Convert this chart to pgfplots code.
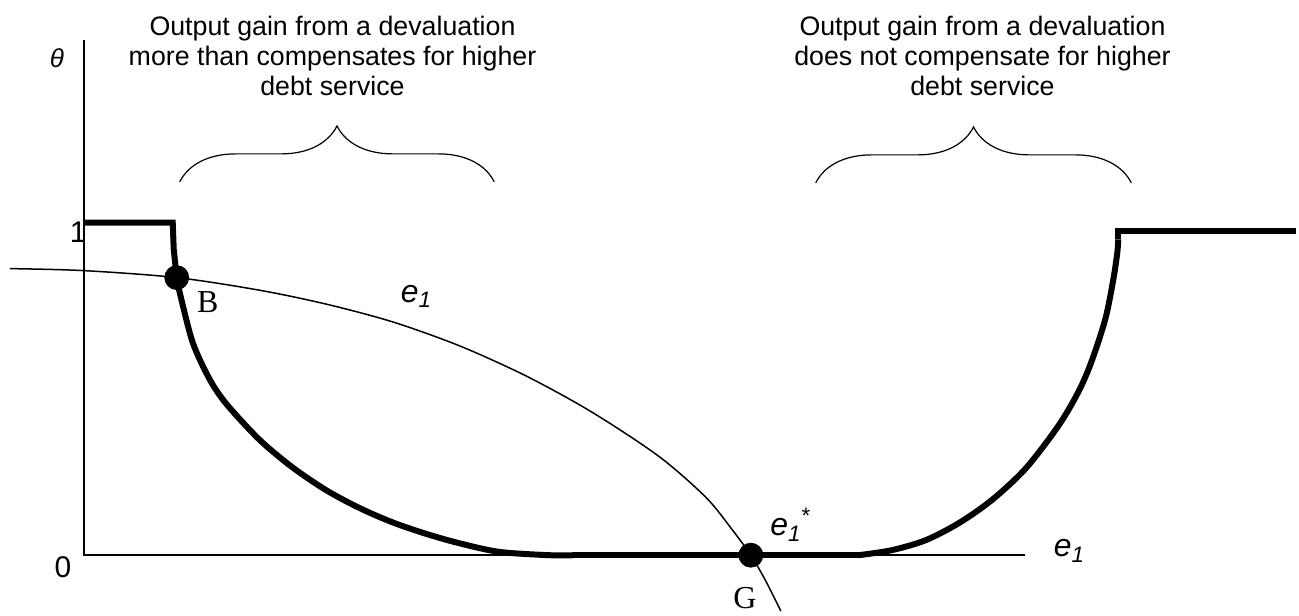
\documentclass[border=0pt]{standalone}
\usepackage{pgfplots}
\pgfplotsset{compat=1.18}
\usepackage{fontspec}
\setmainfont{Liberation Sans}
\newfontfamily\serif{Liberation Serif}
\usetikzlibrary{decorations.pathreplacing}

\newcommand{\eone}{\textit{e}\textsubscript{\textit{1}}}

\begin{document}
\begin{tikzpicture}
\begin{axis}[
    width=649.5pt,
    height=307pt,
    scale only axis,
    hide axis,
    clip=false,
    xmin=-0.84, xmax=12.15,
    ymin=-0.174, ymax=1.670,
]
% keep the whole axis box as the picture
\path (rel axis cs:0,0) rectangle (rel axis cs:1,1);

% axes
\addplot[black, line width=1.2pt] coordinates {(0,1.55) (0,0) (9.43,0)};

% e1 schedule (thin)
\addplot[black, line width=0.75pt, smooth] coordinates {
    (-0.74,0.862) (0,0.856) (0.93,0.835) (1.76,0.797) (2.43,0.755)
    (3.09,0.702) (3.76,0.630) (4.43,0.539) (5.09,0.430) (5.76,0.297)
    (6.23,0.174) (6.49,0.078) (6.68,0) (6.83,-0.078) (6.98,-0.168)
};

% thick schedule, left step
\addplot[black, line width=3pt] coordinates {
    (0,1.0) (0.89,1.0) (0.90,0.92) (0.93,0.835)
};
% left curve
\addplot[black, line width=3pt, smooth] coordinates {
    (0.93,0.835) (0.96,0.790) (1.09,0.640) (1.26,0.529) (1.43,0.454)
    (1.76,0.347) (2.09,0.264) (2.43,0.195) (2.76,0.142) (3.09,0.099)
    (3.43,0.064) (3.76,0.036) (4.16,0.010) (4.66,0) (4.91,0)
};
% flat part
\addplot[black, line width=3pt] coordinates {(4.91,0) (7.76,0)};
% right curve
\addplot[black, line width=3pt, smooth] coordinates {
    (7.76,0) (8.09,0.015) (8.43,0.045) (8.76,0.096) (9.09,0.165)
    (9.43,0.260) (9.76,0.389) (9.96,0.491) (10.09,0.581) (10.23,0.710)
    (10.31,0.829) (10.35,0.910) (10.36,0.950)
};
% right step
\addplot[black, line width=3pt] coordinates {
    (10.36,0.950) (10.36,0.976) (12.14,0.976)
};

% points B and G
\addplot[only marks, mark=*, mark size=6pt, black] coordinates {(0.93,0.835) (6.68,0)};

% braces
\draw[decorate, decoration={brace, amplitude=28pt}, line width=0.6pt]
    (axis cs:0.96,1.123) -- (axis cs:4.11,1.123);
\draw[decorate, decoration={brace, amplitude=28pt}, line width=0.6pt]
    (axis cs:7.33,1.120) -- (axis cs:10.49,1.120);

% texts
\node[align=center, font=\fontsize{13.4}{15}\selectfont] at (axis cs:2.49,1.503)
    {Output gain from a devaluation\\more than compensates for higher\\debt service};
\node[align=center, font=\fontsize{13.4}{15}\selectfont] at (axis cs:9.00,1.503)
    {Output gain from a devaluation\\does not compensate for higher\\debt service};

\node[font=\fontsize{13}{15}\selectfont\itshape] at (axis cs:-0.27,1.494) {θ};
\node[anchor=east, inner sep=0pt, font=\fontsize{15}{17}\selectfont] at (axis cs:0.03,0.972) {1};
\node[font=\fontsize{15}{17}\selectfont] at (axis cs:-0.21,-0.036) {0};

\node[font=\fontsize{16}{18}\selectfont\serif] at (axis cs:1.24,0.760) {B};
\node[font=\fontsize{16}{18}\selectfont\serif] at (axis cs:6.62,-0.129) {G};

\node[font=\fontsize{16}{18}\selectfont] at (axis cs:3.33,0.778) {\eone};
\node[font=\fontsize{16}{18}\selectfont] at (axis cs:7.08,0.092) {\eone\textsuperscript{*}};
\node[anchor=base west, inner sep=0pt, font=\fontsize{16}{18}\selectfont] at (axis cs:9.71,-0.005) {\eone};

\end{axis}
\end{tikzpicture}
\end{document}
